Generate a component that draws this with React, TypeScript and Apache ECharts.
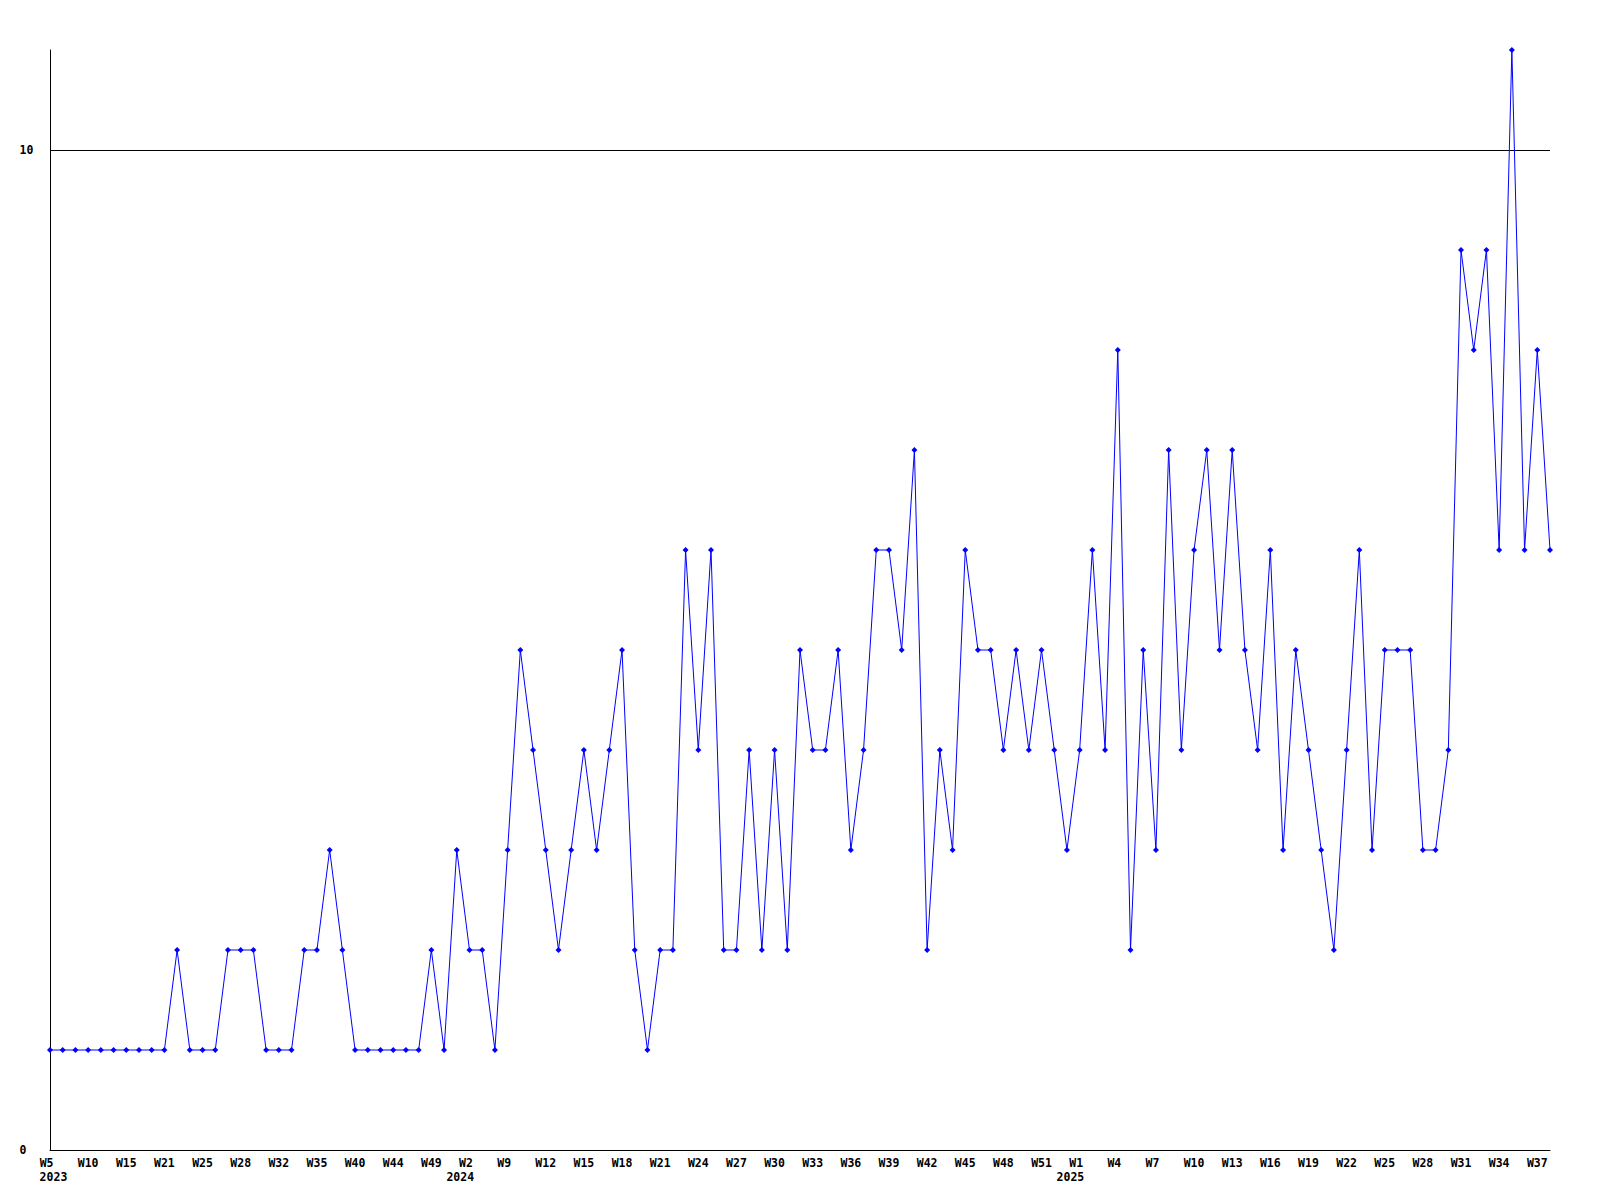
import React, { useEffect, useRef } from "react";
import * as echarts from "echarts";

// Week labels (one per data point; every third is printed on the axis)
const weeks: string[] = [
  "W5", "W7", "W8", "W10", "W12", "W13", "W15", "W17", "W19", "W21",
  "W22", "W24", "W25", "W26", "W27", "W28", "W29", "W31", "W32", "W33",
  "W34", "W35", "W37", "W38", "W40", "W41", "W43", "W44", "W46", "W47",
  "W49", "W51",
  "W1", "W2", "W4", "W7", "W9", "W10", "W11", "W12", "W13", "W14",
  "W15", "W16", "W17", "W18", "W19", "W20", "W21", "W22", "W23", "W24",
  "W25", "W26", "W27", "W28", "W29", "W30", "W31", "W32", "W33", "W34",
  "W35", "W36", "W37", "W38", "W39", "W40", "W41", "W42", "W43", "W44",
  "W45", "W46", "W47", "W48", "W49", "W50", "W51", "W52",
  "W0", "W1", "W2", "W3", "W4", "W5", "W6", "W7", "W8", "W9",
  "W10", "W11", "W12", "W13", "W14", "W15", "W16", "W17", "W18", "W19",
  "W20", "W21", "W22", "W23", "W24", "W25", "W26", "W27", "W28", "W29",
  "W30", "W31", "W32", "W33", "W34", "W35", "W36", "W37", "W38",
];

const years: string[] = [
  ...Array(32).fill("2023"),
  ...Array(48).fill("2024"),
  ...Array(39).fill("2025"),
];

const counts: number[] = [
  1, 1, 1, 1, 1, 1, 1, 1, 1, 1,
  2, 1, 1, 1, 2, 2, 2, 1, 1, 1,
  2, 2, 3, 2, 1, 1, 1, 1, 1, 1,
  2, 1, 3, 2, 2, 1, 3, 5, 4, 3,
  2, 3, 4, 3, 4, 5, 2, 1, 2, 2,
  6, 4, 6, 2, 2, 4, 2, 4, 2, 5,
  4, 4, 5, 3, 4, 6, 6, 5, 7, 2,
  4, 3, 6, 5, 5, 4, 5, 4, 5, 4,
  3, 4, 6, 4, 8, 2, 5, 3, 7, 4,
  6, 7, 5, 7, 5, 4, 6, 3, 5, 4,
  3, 2, 4, 6, 3, 5, 5, 5, 3, 3,
  4, 9, 8, 9, 6, 11, 6, 8, 6,
];

const yTicks: number[] = [0, 10];

const FONT = "'DejaVu Sans Mono', 'Liberation Mono', monospace";

export default function App() {
  const ref = useRef<HTMLDivElement>(null);

  useEffect(() => {
    document.body.style.margin = "0";
    if (!ref.current) return;
    const chart = echarts.init(ref.current, null, { renderer: "svg" });
    const labelStyle = {
      fontFamily: FONT,
      fontWeight: "bold" as const,
      fontSize: 11.5,
      color: "#000",
    };
    chart.setOption({
      animation: false,
      backgroundColor: "#ffffff",
      grid: { left: 50, right: 50, top: 50, bottom: 50, containLabel: false },
      xAxis: [
        {
          type: "category",
          data: weeks,
          boundaryGap: false,
          position: "bottom",
          axisLine: { show: true, lineStyle: { color: "#000", width: 1 } },
          axisTick: { show: false },
          splitLine: { show: false },
          axisLabel: {
            ...labelStyle,
            margin: 7,
            interval: (idx: number) => idx % 3 === 0,
            formatter: (v: string) => (v.length < 3 ? "{s|" + v + "}" : v),
            rich: {
              s: { ...labelStyle, padding: [0, 6.9, 0, 0] },
            },
          },
        },
        {
          type: "category",
          data: years,
          boundaryGap: false,
          position: "bottom",
          offset: 14,
          axisLine: { show: false },
          axisTick: { show: false },
          splitLine: { show: false },
          axisLabel: {
            ...labelStyle,
            margin: 7,
            padding: [0, 0, 0, 6.9],
            interval: (idx: number) => idx === 0 || years[idx] !== years[idx - 1],
          },
        },
      ],
      yAxis: {
        type: "value",
        min: 0,
        max: 11,
        interval: 10,
        axisLine: { show: true, lineStyle: { color: "#000", width: 1 } },
        axisTick: { show: false },
        axisLabel: {
          ...labelStyle,
          align: "left",
          margin: 30.5,
          showMaxLabel: false,
          formatter: (v: number) => (yTicks.includes(v) ? String(v) : ""),
        },
        splitLine: {
          show: true,
          lineStyle: { color: ["#000", "#000", "rgba(0,0,0,0)"], width: 1 },
        },
      },
      series: [
        {
          type: "line",
          data: counts,
          xAxisIndex: 0,
          yAxisIndex: 0,
          symbol: "diamond",
          symbolSize: 6,
          showSymbol: true,
          showAllSymbol: true,
          lineStyle: { color: "#0000ff", width: 1 },
          itemStyle: { color: "#0000ff" },
          clip: true,
        },
      ],
    });
    return () => chart.dispose();
  }, []);

  return <div ref={ref} style={{ width: 1600, height: 1200 }} />;
}
